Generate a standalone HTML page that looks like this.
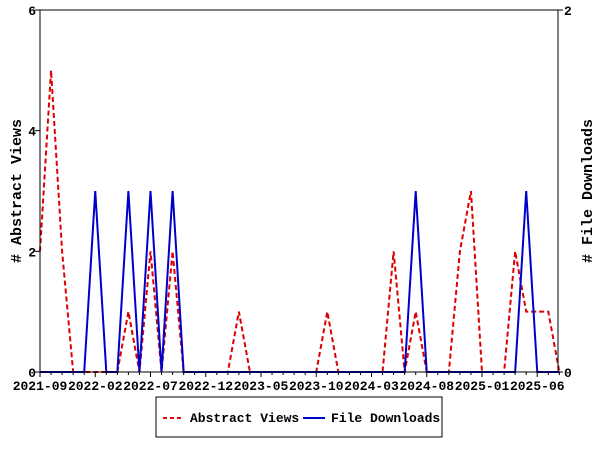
<!DOCTYPE html>
<html><head><meta charset="utf-8"><style>
body{margin:0;background:#fff;}
svg text{font-family:"Liberation Mono",monospace;font-weight:bold;font-size:13px;fill:#000;}
</style></head><body>
<svg id="chart" width="600" height="450">
<rect x="0" y="0" width="600" height="450" fill="#fff"/>
<g id="grid"></g>
<g id="series"></g>
<g id="axes"></g>
<g>
<rect x="156" y="397" width="286" height="40" fill="#fff" stroke="#000" stroke-width="1"/>
<line x1="163" y1="418" x2="183" y2="418" stroke="#dd0000" stroke-width="2" stroke-dasharray="4,3"/>
<text x="190" y="422">Abstract Views</text>
<line x1="303" y1="418" x2="325" y2="418" stroke="#0000cc" stroke-width="2"/>
<text x="331" y="422">File Downloads</text>
</g>
<text transform="translate(21,191) rotate(-90)" text-anchor="middle" style="font-size:15px"># Abstract Views</text>
<text transform="translate(592,191) rotate(-90)" text-anchor="middle" style="font-size:15px"># File Downloads</text>
</svg>
<script>
const months = 48;
const xTickLabels = ["2021-09","2022-02","2022-07","2022-12","2023-05","2023-10","2024-03","2024-08","2025-01","2025-06"];
const views = [2,5,2,0,0,0,0,0,1,0,2,0,2,0,0,0,0,0,1,0,0,0,0,0,0,0,1,0,0,0,0,0,2,0,1,0,0,0,2,3,0,0,0,2,1,1,1,0];
const downloads = [0,0,0,0,0,1,0,0,1,0,1,0,1,0,0,0,0,0,0,0,0,0,0,0,0,0,0,0,0,0,0,0,0,0,1,0,0,0,0,0,0,0,0,0,1,0,0,0];
const leftTicks = [0,2,4,6];
const rightTicks = [0,2];

const X0=40,X1=558,Y0=372,Y1=10,STEP=11.05;
const NS="http://www.w3.org/2000/svg";
function x(i){return X0+i*STEP;}
function yL(v){return Y0-(v/6)*(Y0-Y1);}
function yR(v){return Y0-(v/2)*(Y0-Y1);}
function mk(tag,attrs,parent){const e=document.createElementNS(NS,tag);for(const k in attrs)e.setAttribute(k,attrs[k]);parent.appendChild(e);return e;}
const axes=document.getElementById('axes'),series=document.getElementById('series');

let frame=mk('rect',{x:X0,y:Y1,width:X1-X0,height:Y0-Y1,fill:'none',stroke:'#000','stroke-width':1},axes);



for(let i=0;i<months;i++){
  const t=mk('line',{x1:x(i),y1:Y0,x2:x(i),y2:Y0+(i%5===0?5:3),stroke:'#000'},axes);
  
  
}
xTickLabels.forEach((lab,j)=>{
  const t=mk('text',{x:x(j*5),y:Y0+18,'text-anchor':'middle'},axes);
  t.textContent=lab;
  
  
});
leftTicks.forEach(v=>{
  const l=mk('line',{x1:X0-5,y1:yL(v),x2:X0,y2:yL(v),stroke:'#000'},axes);
  
  
  const t=mk('text',{x:X0-4,y:yL(v)+5,'text-anchor':'end'},axes);
  t.textContent=v;
  
  
});
rightTicks.forEach(v=>{
  const l=mk('line',{x1:X1,y1:yR(v),x2:X1+5,y2:yR(v),stroke:'#000'},axes);
  
  
  const t=mk('text',{x:X1+6,y:yR(v)+5,'text-anchor':'start'},axes);
  t.textContent=v;
  
  
});

const pv=mk('polyline',{points:views.map((v,i)=>x(i)+','+yL(v)).join(' '),fill:'none',stroke:'#dd0000','stroke-width':2,'stroke-dasharray':'5,3'},series);


const pd=mk('polyline',{points:downloads.map((v,i)=>x(i)+','+yR(v)).join(' '),fill:'none',stroke:'#0000cc','stroke-width':2},series);


</script>
</body></html>
